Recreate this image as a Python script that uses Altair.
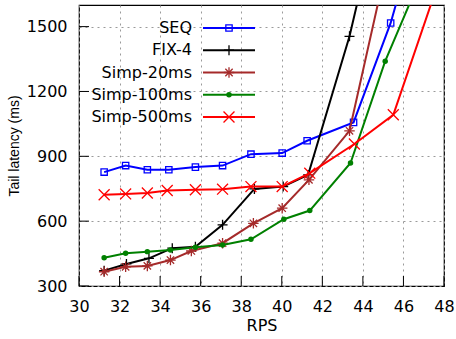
import altair as alt
import pandas as pd

names = ["SEQ", "FIX-4", "Simp-20ms", "Simp-100ms", "Simp-500ms"]
colors = ["#0000ff", "#000000", "#a52a2a", "#008000", "#ff0000"]

seq_x = [31.24, 32.3, 33.37, 34.43, 35.74, 37.08, 38.48, 40.02, 41.25, 43.54, 45.37, 46.5]
seq_y = [827, 857, 838, 838, 850, 857, 910, 915, 972, 1057, 1517, 1890]

fix_x = [31.24, 32.34, 33.45, 34.6, 35.74, 37.08, 38.65, 40.07, 41.3, 43.34, 44.2]
fix_y = [371, 402, 428, 475, 482, 583, 749, 760, 814, 1455, 1800]

s20_x = [31.24, 32.3, 33.37, 34.51, 35.54, 37.08, 38.6, 40.02, 41.34, 43.34, 45.3]
s20_y = [366, 389, 393, 420, 462, 498, 590, 660, 791, 1018, 1840]

s100_x = [31.24, 32.3, 33.37, 34.51, 35.74, 37.08, 38.48, 40.1, 41.38, 43.39, 45.1, 47.0]
s100_y = [431, 451, 459, 467, 479, 490, 516, 609, 649, 869, 1340, 1760]

s500_x = [31.24, 32.3, 33.37, 34.35, 35.74, 37.08, 38.48, 40.02, 41.38, 43.58, 45.5, 48.0]
s500_y = [722, 726, 730, 742, 745, 748, 760, 760, 822, 957, 1092, 1780]

x_ticks = [30, 32, 34, 36, 38, 40, 42, 44, 46, 48]
y_ticks = [300, 600, 900, 1200, 1500]

series_x = [seq_x, fix_x, s20_x, s100_x, s500_x]
series_y = [seq_y, fix_y, s20_y, s100_y, s500_y]

PLUS = "M-1,0H1M0,-1V1"
STAR = "M-1,0H1M0,-1V1M-0.7,-0.7L0.7,0.7M-0.7,0.7L0.7,-0.7"
XS = "M-1,-1L1,1M-1,1L1,-1"
shapes = ["square", PLUS, STAR, "circle", XS]
filled = [False, False, False, True, False]
sizes = [40, 100, 110, 30, 120]

FONT = "DejaVu Sans"
TFONT = "Liberation Sans"
FS = 16
W, H = 365, 281

rows = []
for i, n in enumerate(names):
    for xv, yv in zip(series_x[i], series_y[i]):
        rows.append({"series": n, "x": xv, "y": yv})
data = pd.DataFrame(rows)

xscale = alt.Scale(domain=[30, 48], nice=False, zero=False)
yscale = alt.Scale(domain=[300, 1600], nice=False, zero=False)

base = alt.Chart(data)
X = alt.X("x:Q", scale=xscale,
          axis=alt.Axis(values=x_ticks, title="RPS", grid=True, gridDash=[2, 4],
                        gridColor="#9a9a9a", gridOpacity=1, ticks=False, domain=False,
                        labelFont=FONT, labelFontSize=FS, labelColor="#000",
                        labelPadding=12, labelFlush=False, format="d",
                        titleFont=FONT, titleFontSize=FS,
                        titleFontWeight="normal", titleColor="#000", titlePadding=3))
Y = alt.Y("y:Q", scale=yscale,
          axis=alt.Axis(values=y_ticks, title="Tail latency (ms)", grid=True,
                        gridDash=[2, 4], gridColor="#9a9a9a", gridOpacity=1,
                        ticks=False, domain=False, format="d",
                        labelFont=FONT, labelFontSize=FS, labelColor="#000",
                        labelPadding=12, labelFlush=False, titleFont=TFONT,
                        titleFontSize=14, titleFontWeight="normal", titleColor="#000",
                        titlePadding=5))

layers = []
# series, drawn in order so later ones are on top
for i, n in enumerate(names):
    sub = base.transform_filter(alt.datum.series == n)
    if i == 0:
        layers.append(sub.mark_line(color=colors[i], strokeWidth=2, clip=True).encode(x=X, y=Y))
    else:
        layers.append(sub.mark_line(color=colors[i], strokeWidth=2, clip=True).encode(
            x="x:Q", y="y:Q"))
    layers.append(sub.mark_point(shape=shapes[i], filled=filled[i], size=sizes[i],
                                 color=colors[i], strokeWidth=1.3, opacity=1,
                                 clip=True).encode(x="x:Q", y="y:Q"))

# inward ticks
xt = pd.DataFrame({"x": x_ticks})
yt = pd.DataFrame({"y": y_ticks})
layers.append(alt.Chart(xt).mark_rule(color="#000", strokeWidth=1).encode(
    x="x:Q", y=alt.value(H), y2=alt.value(H - 10)))
layers.append(alt.Chart(yt).mark_rule(color="#000", strokeWidth=1).encode(
    y="y:Q", x=alt.value(0), x2=alt.value(10)))

# legend (guide), rows placed by style offsets
LEG_TOP, LEG_STEP = 23, 22.25
for i, n in enumerate(names):
    ld = pd.DataFrame({"series": [n]})
    ypos = alt.value(LEG_TOP + LEG_STEP * i)
    layers.append(alt.Chart(ld).mark_text(align="right", baseline="middle", font=FONT,
                                          fontSize=FS, color="#000").encode(
        y=ypos, x=alt.value(113), text="series:N"))
    layers.append(alt.Chart(ld).mark_rule(color=colors[i], strokeWidth=2).encode(
        y=ypos, x=alt.value(124), x2=alt.value(176)))
    layers.append(alt.Chart(ld).mark_point(shape=shapes[i], filled=filled[i], size=sizes[i],
                                           color=colors[i], strokeWidth=1.3,
                                           opacity=1).encode(y=ypos, x=alt.value(150)))

chart = alt.layer(*layers).properties(
    width=W, height=H,
    autosize=alt.AutoSizeParams(type="none"),
    padding={"left": 79, "top": 5, "right": 12, "bottom": 53},
    background="white",
).configure_view(stroke="#000", strokeWidth=1.2)

chart.save("out.html", embed_options={"renderer": "svg", "actions": False})
